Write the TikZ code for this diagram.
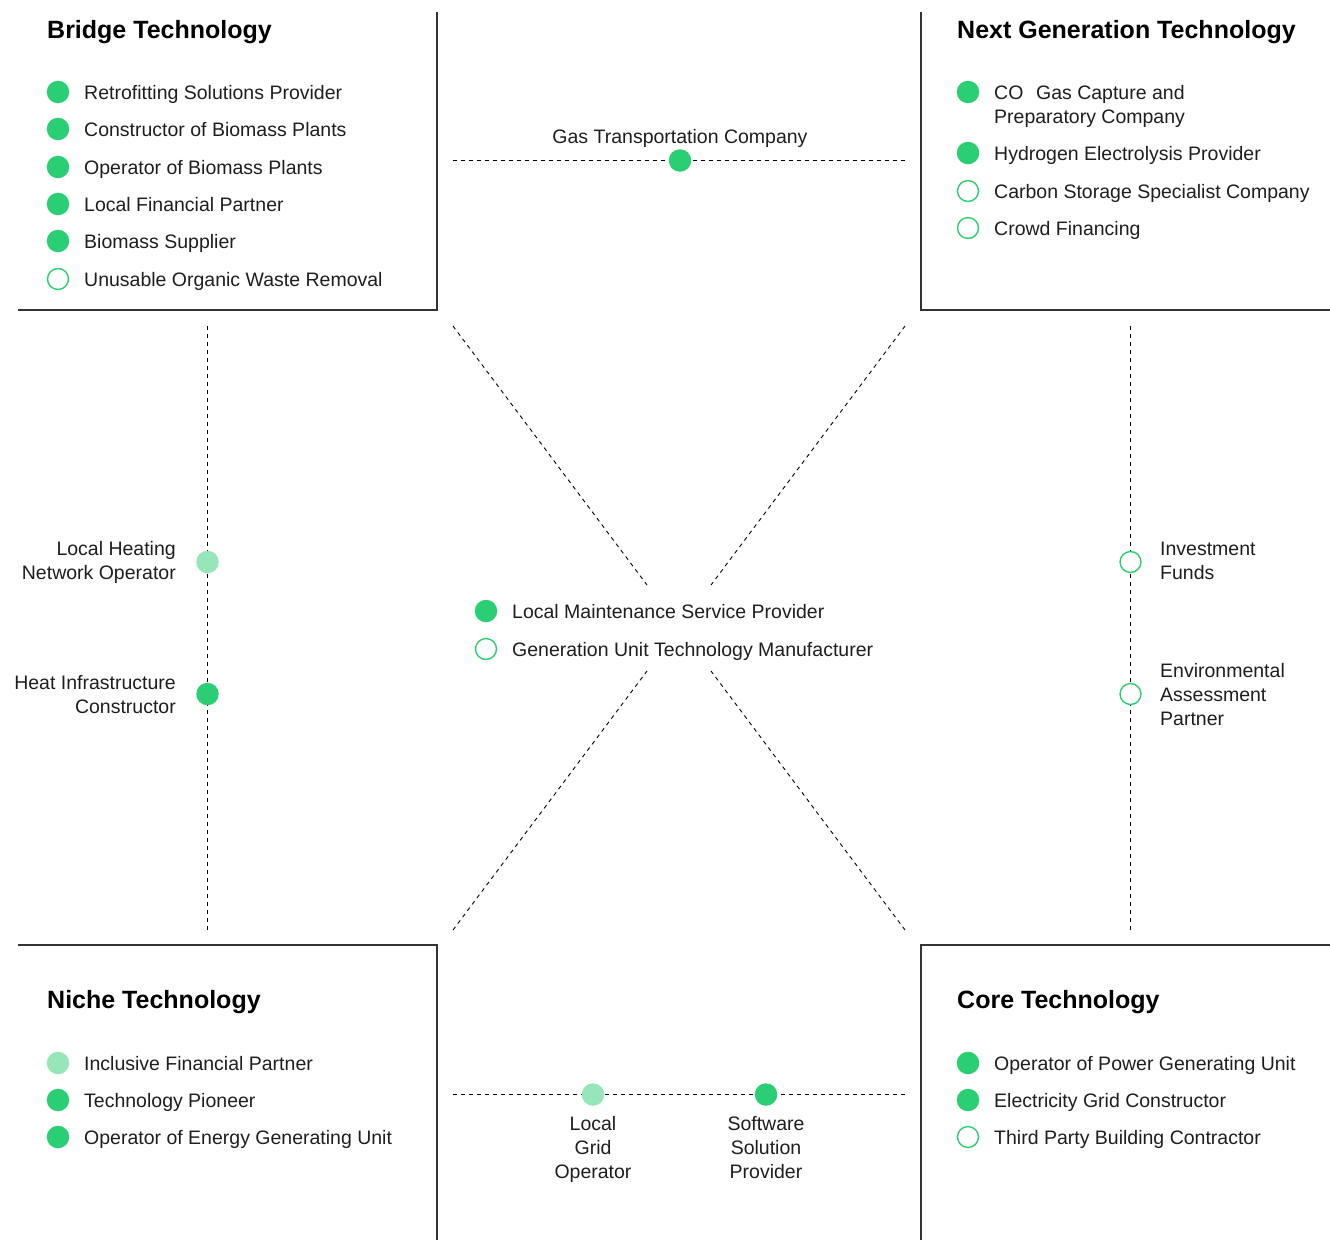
\documentclass[tikz,border=0pt]{standalone}
\usepackage{fontspec}
\setmainfont{Liberation Sans}
\definecolor{grn}{HTML}{2ACF74}
\definecolor{lgrn}{HTML}{96E6B9}
\definecolor{txt}{HTML}{1E1E1E}
\definecolor{frame}{HTML}{333333}
\begin{document}
\begin{tikzpicture}[x=1pt,y=-1pt,
  boxline/.style={draw=frame,line width=1.2pt},
  dashline/.style={draw=black,line width=0.9pt,dash pattern=on 4pt off 4pt},
  full/.style={circle,fill=grn,minimum size=22.5pt,inner sep=0pt},
  light/.style={circle,fill=lgrn,minimum size=22.5pt,inner sep=0pt},
  open/.style={circle,draw=grn,line width=1.4pt,fill=white,minimum size=21pt,inner sep=0pt},
  item/.style={font=\fontsize{19.5}{24}\selectfont,text=txt,inner sep=0pt,anchor=base west},
  title/.style={font=\fontsize{25}{28}\selectfont\bfseries,text=black,inner sep=0pt,anchor=base west}]
\useasboundingbox (0,0) rectangle (1330,1240);
% frames
\coordinate (a1) at (437,12); \coordinate (a2) at (437,310); \coordinate (a3) at (18,310);
\draw[boxline] (a1) -- (a2) -- (a3);
\coordinate (b1) at (921,12); \coordinate (b2) at (921,310); \coordinate (b3) at (1330,310);
\draw[boxline] (b1) -- (b2) -- (b3);
\coordinate (c1) at (18,945); \coordinate (c2) at (437,945); \coordinate (c3) at (437,1240);
\draw[boxline] (c1) -- (c2) -- (c3);
\coordinate (d1) at (1330,945); \coordinate (d2) at (921,945); \coordinate (d3) at (921,1240);
\draw[boxline] (d1) -- (d2) -- (d3);
% dashed lines
\coordinate (tL) at (453,160.5); \coordinate (tR) at (907,160.5);
\coordinate (bL) at (453,1094.5); \coordinate (bR) at (907,1094.5);
\coordinate (lT) at (207.5,326); \coordinate (lB) at (207.5,930);
\coordinate (rT) at (1130.5,326); \coordinate (rB) at (1130.5,930);
\coordinate (x1) at (453,326); \coordinate (x1e) at (647,585);
\coordinate (x2) at (905,326); \coordinate (x2e) at (711,585);
\coordinate (x3) at (453,930); \coordinate (x3e) at (647,671);
\coordinate (x4) at (905,930); \coordinate (x4e) at (711,671);
\draw[dashline] (tL) -- (tR);
\draw[dashline] (bL) -- (bR);
\draw[dashline] (lT) -- (lB);
\draw[dashline] (rT) -- (rB);
\draw[dashline] (x1) -- (x1e);
\draw[dashline] (x2) -- (x2e);
\draw[dashline] (x3) -- (x3e);
\draw[dashline] (x4) -- (x4e);
% Bridge Technology
\node[title] (tBridge) at (47,38.8) {Bridge Technology};
\node[full] (br1) at (58,92) {}; \node[item] (br1t) at (84,99.6) {Retrofitting Solutions Provider};
\node[full] (br2) at (58,129) {}; \node[item] (br2t) at (84,136.6) {Constructor of Biomass Plants};
\node[full] (br3) at (58,167) {}; \node[item] (br3t) at (84,174.6) {Operator of Biomass Plants};
\node[full] (br4) at (58,204) {}; \node[item] (br4t) at (84,211.6) {Local Financial Partner};
\node[full] (br5) at (58,241) {}; \node[item] (br5t) at (84,248.6) {Biomass Supplier};
\node[open] (br6) at (58,279) {}; \node[item] (br6t) at (84,286.6) {Unusable Organic Waste Removal};
% Next Generation Technology
\node[title] (tNext) at (957,38.8) {Next Generation Technology};
\node[full] (ng1) at (968,92) {}; \node[item,anchor=north west,align=left] (ng1t) at (994,85.2) {CO\hspace{0.65em}Gas Capture and\\Preparatory Company};
\node[full] (ng2) at (968,153) {}; \node[item] (ng2t) at (994,160.6) {Hydrogen Electrolysis Provider};
\node[open] (ng3) at (968,191) {}; \node[item] (ng3t) at (994,198.6) {Carbon Storage Specialist Company};
\node[open] (ng4) at (968,228) {}; \node[item] (ng4t) at (994,235.6) {Crowd Financing};
% Gas transportation
\node[full] (gas) at (680,160.5) {};
\node[item,anchor=base] (gast) at (680,143.6) {Gas Transportation Company};
% Left
\node[light] (lh) at (207.5,562) {};
\node[item,anchor=north east,align=right] (lht) at (176,541) {Local Heating\\Network Operator};
\node[full] (hi) at (207.5,694) {};
\node[item,anchor=north east,align=right] (hit) at (176,675) {Heat Infrastructure\\Constructor};
% Right
\node[open] (inv) at (1130.5,562) {};
\node[item,anchor=north west,align=left] (invt) at (1160,541.5) {Investment\\Funds};
\node[open] (env) at (1130.5,694) {};
\node[item,anchor=north west,align=left] (envt) at (1160,663.2) {Environmental\\Assessment\\Partner};
% Center
\node[full] (lm) at (486,611) {}; \node[item] (lmt) at (512,618.6) {Local Maintenance Service Provider};
\node[open] (gu) at (486,649) {}; \node[item] (gut) at (512,656.6) {Generation Unit Technology Manufacturer};
% Niche
\node[title] (tNiche) at (47,1008.8) {Niche Technology};
\node[light] (ni1) at (58,1063) {}; \node[item] (ni1t) at (84,1070.6) {Inclusive Financial Partner};
\node[full] (ni2) at (58,1100) {}; \node[item] (ni2t) at (84,1107.6) {Technology Pioneer};
\node[full] (ni3) at (58,1137) {}; \node[item] (ni3t) at (84,1144.6) {Operator of Energy Generating Unit};
% Core
\node[title] (tCore) at (957,1008.8) {Core Technology};
\node[full] (co1) at (968,1063) {}; \node[item] (co1t) at (994,1070.6) {Operator of Power Generating Unit};
\node[full] (co2) at (968,1100) {}; \node[item] (co2t) at (994,1107.6) {Electricity Grid Constructor};
\node[open] (co3) at (968,1137) {}; \node[item] (co3t) at (994,1144.6) {Third Party Building Contractor};
% Bottom
\node[light] (lg) at (593,1094.5) {};
\node[item,anchor=north,align=center] (lgt) at (593,1116) {Local\\Grid\\Operator};
\node[full] (ss) at (766,1094.5) {};
\node[item,anchor=north,align=center] (sst) at (766,1116) {Software\\Solution\\Provider};
\end{tikzpicture}
\end{document}
